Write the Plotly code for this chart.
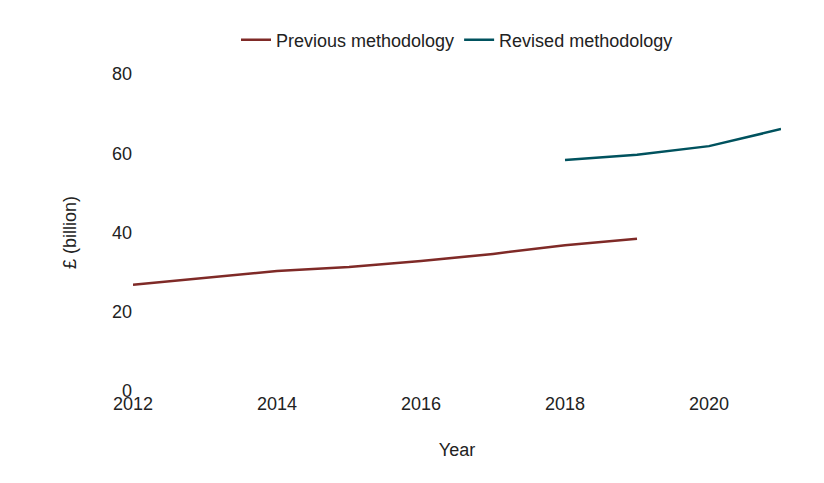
import plotly.graph_objs as go

prev_years = [2012, 2013, 2014, 2015, 2016, 2017, 2018, 2019]
prev_values = [26.8, 28.5, 30.3, 31.3, 32.8, 34.6, 36.8, 38.4]
rev_years = [2018, 2019, 2020, 2021]
rev_values = [58.3, 59.6, 61.8, 66.1]

fig = go.Figure()
fig.add_trace(go.Scatter(x=prev_years, y=prev_values, mode="lines",
                         name="Previous methodology", line=dict(color="#7f2a27", width=2.5)))
fig.add_trace(go.Scatter(x=rev_years, y=rev_values, mode="lines",
                         name="Revised methodology", line=dict(color="#00525e", width=2.5)))

fig.update_layout(
    width=824, height=483,
    margin=dict(l=125, r=51, t=66, b=100, autoexpand=False),
    plot_bgcolor="white", paper_bgcolor="white",
    font=dict(family="Liberation Sans, Arial", size=18, color="#222"),
    legend=dict(orientation="h", x=0.5, xanchor="center", y=1.107, yanchor="middle",
                font=dict(size=18), itemwidth=30),
    xaxis=dict(range=[2012, 2021], tickvals=[2012, 2014, 2016, 2018, 2020],
               showgrid=False, zeroline=False, showline=False, automargin=False,
               tickfont=dict(size=18),
               title=dict(text="Year", standoff=30, font=dict(size=18))),
    yaxis=dict(range=[0, 80], tickvals=[0, 20, 40, 60, 80], showgrid=False,
               zeroline=False, showline=False, automargin=False,
               tickfont=dict(size=18),
               title=dict(text="£ (billion)", standoff=30, font=dict(size=18))),
)

fig.write_html("out.html")
